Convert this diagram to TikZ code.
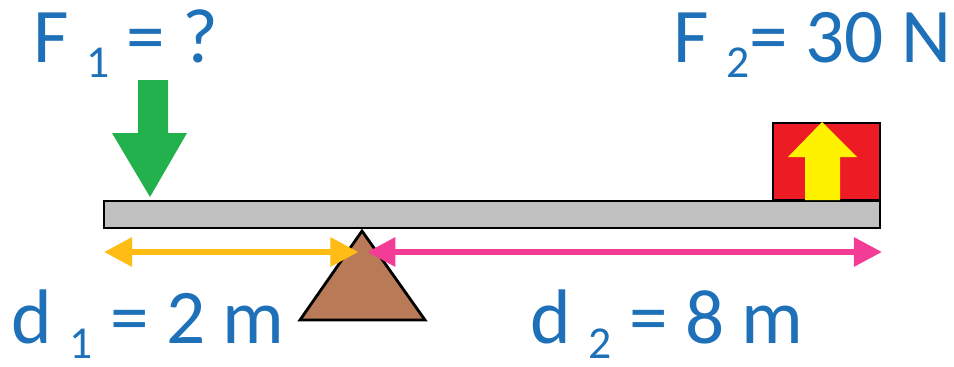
\documentclass[tikz,border=0pt]{standalone}
\usepackage{fontspec}
\setmainfont{Carlito}
\usepackage{tikz}
\usetikzlibrary{arrows.meta,positioning}
\definecolor{labelblue}{RGB}{30,112,185}
\definecolor{beamgray}{RGB}{192,192,192}
\definecolor{forcegreen}{RGB}{34,177,76}
\definecolor{boxred}{RGB}{237,28,36}
\definecolor{forceyellow}{RGB}{255,242,0}
\definecolor{dimorange}{RGB}{255,188,20}
\definecolor{dimpink}{RGB}{242,60,150}
\definecolor{pivotbrown}{RGB}{185,122,87}
\newcommand\lowdigit[1]{\raisebox{-9pt}{\fontsize{26}{28}\selectfont #1}}

\begin{document}
\begin{tikzpicture}[x=0.02cm,y=-0.02cm,
  label/.style={anchor=base west,inner sep=0pt,text=labelblue,font=\fontsize{44}{48}\selectfont},
  outlined/.style={draw=black,line width=1.6pt},
  dimarrow/.style={{Triangle[length=16pt,width=16pt]}-{Triangle[length=16pt,width=16pt]},line width=3.4pt}
]
\useasboundingbox (0,0) rectangle (954,366);
% lever
\draw[outlined,fill=beamgray] (104,201) rectangle (880,228);
\coordinate (beamleft) at (104,252);
\coordinate (beamright) at (882,252);
% fulcrum
\filldraw[outlined,fill=pivotbrown] (362,231) coordinate (apex) -- (425,320) -- (300,320) -- cycle;
% load on the right
\draw[outlined,fill=boxred] (773,123) rectangle (880,200);
\fill[forceyellow] (805,200) -- (805,157) -- (788,157) -- (822,122) -- (857,157) -- (840,157) -- (840,200) -- cycle;
% unknown force on the left
\fill[forcegreen] (138,80) -- (168,80) -- (168,133) -- (187,133) -- (150,197) -- (112,133) -- (138,133) -- cycle;
% distances
\draw[dimarrow,dimorange] (beamleft) -- ([xshift=-2pt]apex |- beamleft);
\draw[dimarrow,dimpink] ([xshift=3pt]apex |- beamleft) -- (beamright);
% labels
\node[label] (force1) at (33,62) {F \lowdigit{1} = ?};
\node[label] (force2) at (673,62) {F \lowdigit{2}= 30 N};
\node[label] (dist1) at (11,343) {d \lowdigit{1} = 2 m};
\node[label] (dist2) at (530,343) {d \lowdigit{2} = 8 m};
\end{tikzpicture}
\end{document}
